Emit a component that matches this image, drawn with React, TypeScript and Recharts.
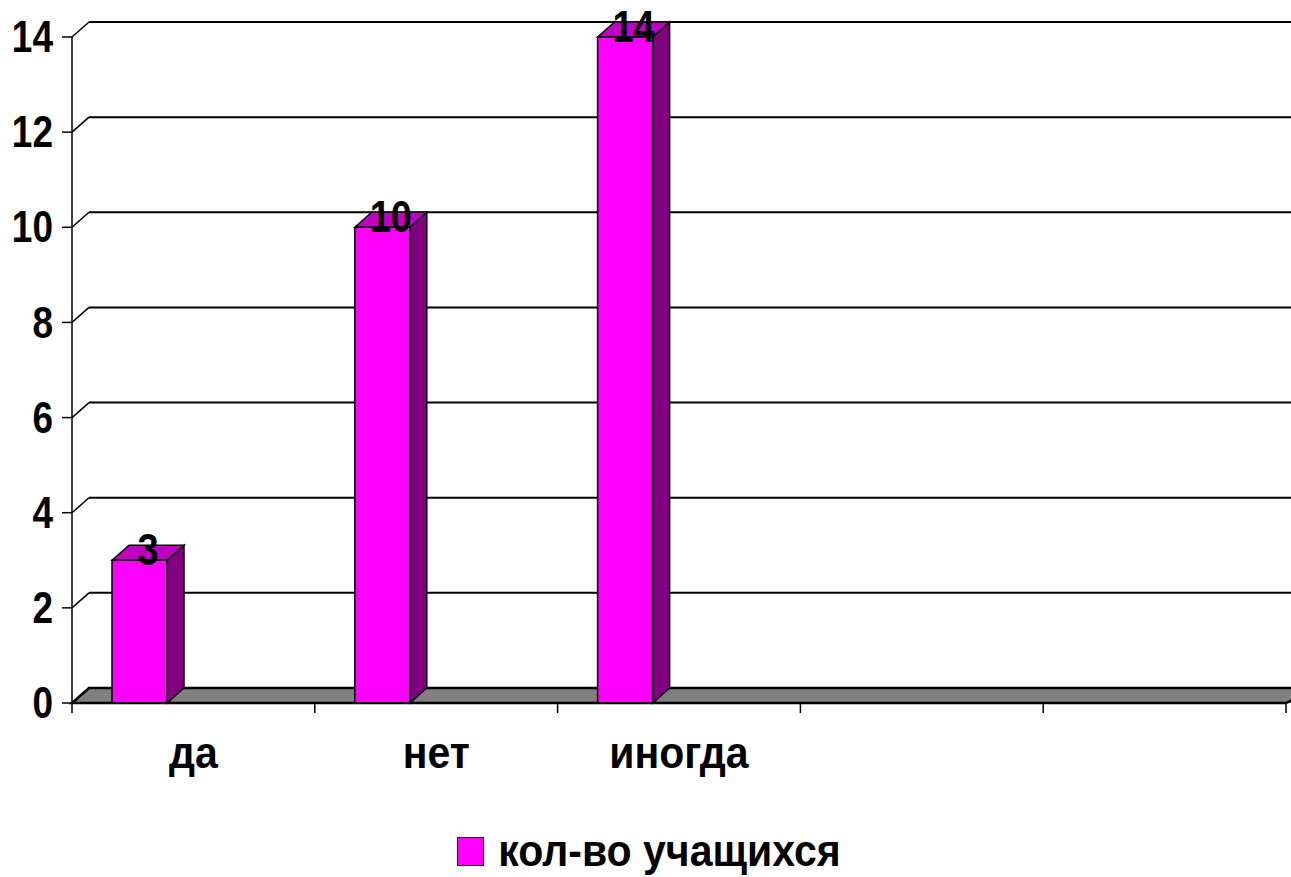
import React from 'react';
import { BarChart, Bar, XAxis, YAxis, CartesianGrid, ReferenceLine, LabelList, Legend } from 'recharts';

const categories = ['да', 'нет', 'иногда', '', ''];
const studentCounts: (number | null)[] = [3, 10, 14, null, null];
const yTicks = [0, 2, 4, 6, 8, 10, 12, 14];
const seriesName = 'кол-во учащихся';

const data = categories.map((c, i) => ({ category: c, value: studentCounts[i] }));

const DX = 17;
const DY = 15;
const SHIFT = -54;
const FONT = '"Liberation Sans", Arial, sans-serif';
const FRONT = '#FF00FF';
const SIDE = '#800080';
const TOP = '#C000C0';

const stretch = (cy: number, s: number) => `matrix(1 0 0 ${s} 0 ${cy * (1 - s)})`;

function Bar3D(props: any) {
  const { x, y, width, height } = props;
  if (height == null || height <= 0) return null;
  const x0 = x + SHIFT;
  const x1 = x0 + width;
  const yb = y + height;
  return (
    <g>
      <polygon
        points={`${x1},${y} ${x1 + DX},${y - DY} ${x1 + DX},${yb - DY} ${x1},${yb}`}
        fill={SIDE}
        stroke="#000"
        strokeWidth={1.5}
      />
      <polygon
        points={`${x0},${y} ${x0 + DX},${y - DY} ${x1 + DX},${y - DY} ${x1},${y}`}
        fill={TOP}
        stroke="#000"
        strokeWidth={1.5}
      />
      <rect x={x0} y={y} width={width} height={height} fill={FRONT} stroke="#000" strokeWidth={1.5} />
    </g>
  );
}

function ValueLabel(props: any) {
  const { x, y, width, value } = props;
  if (value == null) return null;
  const cy = y - 10;
  return (
    <text
      x={x + SHIFT + width / 2 + DX / 2}
      y={cy}
      transform={stretch(cy, 1.15)}
      textAnchor="middle"
      dominantBaseline="central"
      fontFamily={FONT}
      fontWeight="bold"
      fontSize={38}
      fill="#000"
    >
      {value}
    </text>
  );
}

function YTick(props: any) {
  const { x, y, payload } = props;
  const ax = x + 18;
  return (
    <g>
      <line x1={ax - 10} y1={y} x2={ax} y2={y} stroke="#000" strokeWidth={1.5} />
      <line x1={ax} y1={y} x2={ax + DX} y2={y - DY} stroke="#000" strokeWidth={1.5} />
      <text
        x={x - 1}
        y={y}
        transform={stretch(y, 1.2)}
        textAnchor="end"
        dominantBaseline="central"
        fontFamily={FONT}
        fontWeight="bold"
        fontSize={37}
        fill="#000"
      >
        {payload.value}
      </text>
    </g>
  );
}

function XTick(props: any) {
  const { x, y, payload, index, visibleTicksCount } = props;
  const half = payload.offset ?? 0;
  const last = index === (visibleTicksCount ?? categories.length) - 1;
  const by = y + 65;
  return (
    <g>
      <line x1={x - half} y1={y} x2={x - half} y2={y + 10} stroke="#000" strokeWidth={1.5} />
      {last && <line x1={x + half} y1={y} x2={x + half} y2={y + 10} stroke="#000" strokeWidth={1.5} />}
      <text
        x={x}
        y={by}
        transform={stretch(by, 1.08)}
        textAnchor="middle"
        fontFamily={FONT}
        fontWeight="bold"
        fontSize={41}
        fill="#000"
      >
        {payload.value}
      </text>
    </g>
  );
}

function BackGridLine(props: any) {
  const { x1, y1, x2, y2 } = props;
  return <line x1={x1 + DX} y1={y1 - DY} x2={x2 + DX + 20} y2={y2 - DY} stroke="#000" strokeWidth={2} />;
}

function BackWall(props: any) {
  const { x1, y1, x2, y2 } = props;
  return <line x1={x1 + DX} y1={y1 - DY} x2={x2 + DX} y2={y2 - DY} stroke="#000" strokeWidth={1.5} />;
}

function Floor(props: any) {
  const { x1, y1, x2, y2 } = props;
  return (
    <polygon
      points={`${x1},${y1} ${x2},${y2} ${x2 + DX + 20},${y2 - DY} ${x1 + DX},${y1 - DY}`}
      fill="#808080"
      stroke="#000"
      strokeWidth={2.5}
    />
  );
}

function LegendContent() {
  return (
    <div
      style={{
        height: 52,
        display: 'flex',
        alignItems: 'center',
        justifyContent: 'center',
        paddingLeft: 12,
        fontFamily: FONT,
        fontWeight: 'bold',
        fontSize: 41,
        color: '#000',
      }}
    >
      <span
        style={{
          display: 'inline-block',
          width: 25,
          height: 27,
          background: FRONT,
          border: '1.5px solid #400040',
          marginRight: 14,
        }}
      />
      <span style={{ lineHeight: '52px', display: 'inline-block', transform: 'scaleY(1.1)' }}>{seriesName}</span>
    </div>
  );
}

export default function App() {
  return (
    <div style={{ position: 'absolute', left: 0, top: 0, width: 1291, height: 877, background: '#fff', overflow: 'hidden' }}>
      <BarChart width={1291} height={877} data={data} margin={{ top: 37, right: 5, left: 0, bottom: 0 }}>
        <CartesianGrid horizontal={BackGridLine as any} vertical={false} zIndex={-100} />
        <ReferenceLine x="да" position="start" shape={BackWall as any} zIndex={-60} />
        <ReferenceLine y={0} shape={Floor as any} zIndex={-50} />
        <XAxis
          dataKey="category"
          height={122}
          tickLine={false}
          tickSize={0}
          tickMargin={0}
          axisLine={{ stroke: '#000', strokeWidth: 1.5 }}
          tick={<XTick />}
          interval={0}
        />
        <YAxis
          domain={[0, 14]}
          ticks={yTicks}
          width={72}
          tickLine={false}
          tickSize={10}
          tickMargin={8}
          axisLine={{ stroke: '#000', strokeWidth: 1.5 }}
          tick={<YTick />}
          interval={0}
        />
        <Legend verticalAlign="bottom" content={<LegendContent />} />
        <Bar dataKey="value" name={seriesName} fill={FRONT} barSize={55} shape={<Bar3D />} isAnimationActive={false}>
          <LabelList dataKey="value" content={<ValueLabel />} />
        </Bar>
      </BarChart>
    </div>
  );
}
